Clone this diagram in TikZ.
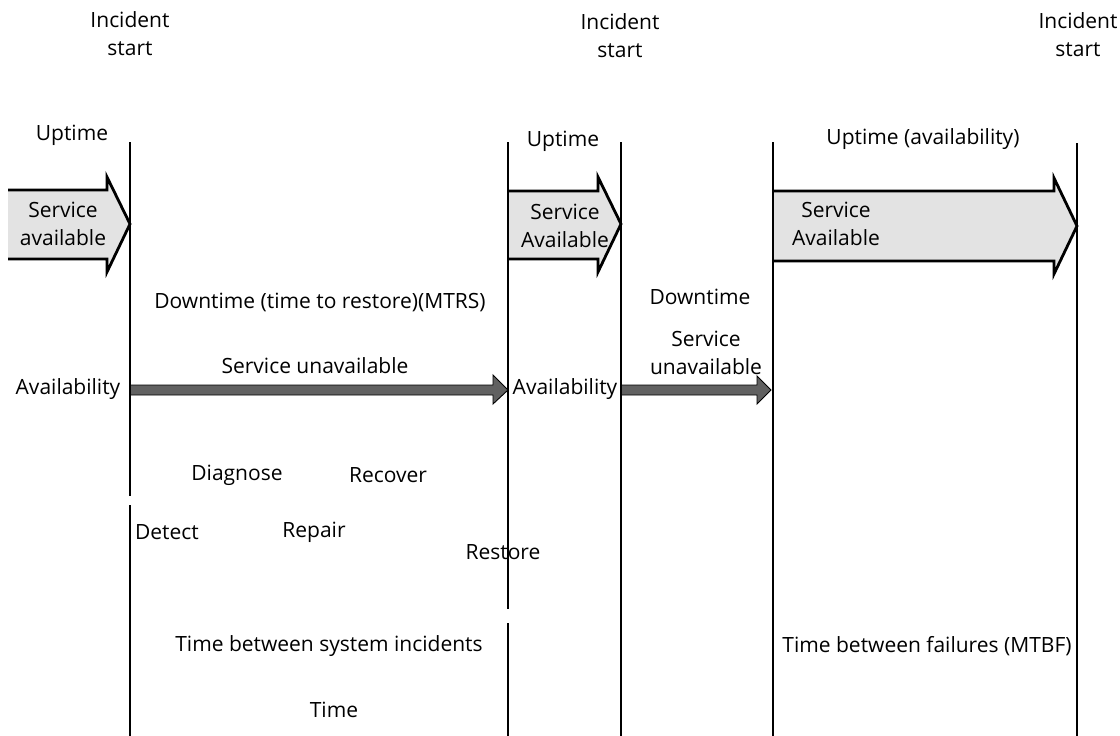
\documentclass[tikz,border=0pt]{standalone}
\usepackage{fontspec}
\setmainfont{Open Sans}
\begin{document}
\begin{tikzpicture}[x=1pt,y=-1pt,
  lbl/.style={font=\fontsize{21}{28}\selectfont, inner sep=0pt, align=center, text=black},
  vline/.style={line width=2.4pt, black},
  bigarrow/.style={fill=gray!22, draw=none},
  bigedge/.style={line width=2.8pt, black, line join=miter},
  thinarrow/.style={fill=black!62, draw=black, line width=0.9pt, line join=miter}]
\useasboundingbox (0,0) rectangle (1120,736);
% coordinates of the timeline lines
\coordinate (a1) at (130,142); \coordinate (a2) at (130,736);
\coordinate (b1) at (508,142); \coordinate (b2) at (508,736);
\coordinate (c1) at (621,142); \coordinate (c2) at (621,736);
\coordinate (d1) at (773,142); \coordinate (d2) at (773,736);
\coordinate (e1) at (1077,143); \coordinate (e2) at (1077,736);
% big arrows (service available)
\fill[bigarrow] (8,190) -- (107,190) -- (107,177) -- (130,224) -- (107,272) -- (107,259) -- (8,259) -- cycle;
\draw[bigedge] (8,190) -- (107,190) -- (107,177) -- (130,224) -- (107,272) -- (107,259) -- (8,259);
\fill[bigarrow] (508,191) -- (598,191) -- (598,177) -- (621,224) -- (598,272) -- (598,259) -- (508,259) -- cycle;
\draw[bigedge] (508,191) -- (598,191) -- (598,177) -- (621,224) -- (598,272) -- (598,259) -- (508,259);
\fill[bigarrow] (773,191) -- (1054,191) -- (1054,178) -- (1077,226) -- (1054,274) -- (1054,261) -- (773,261) -- cycle;
\draw[bigedge] (773,191) -- (1054,191) -- (1054,178) -- (1077,226) -- (1054,274) -- (1054,261) -- (773,261);
% thin arrows (service unavailable)
\draw[thinarrow] (130,385) -- (493,385) -- (493,375) -- (508,390) -- (493,404) -- (493,395) -- (130,395) -- cycle;
\draw[thinarrow] (621,385) -- (757,385) -- (757,376) -- (771,390) -- (757,404) -- (757,395) -- (621,395) -- cycle;
% vertical lines
\draw[vline] (a1) -- (130,496) (130,505) -- (a2);
\draw[vline] (b1) -- (508,609) (508,623) -- (b2);
\draw[vline] (c1) -- (c2);
\draw[vline] (d1) -- (d2);
\draw[vline] (e1) -- (e2);
% labels
\node[lbl] (is1) at (130,34) {Incident\\start};
\node[lbl] (is2) at (620,36) {Incident\\start};
\node[lbl] (is3) at (1078,35) {Incident\\start};
\node[lbl] (up1) at (72,135) {Uptime};
\node[lbl] (up2) at (563,141) {Uptime};
\node[lbl] (up3) at (923,139) {Uptime (availability)};
\node[lbl] (sa1) at (63,224) {Service\\available};
\node[lbl] (sa2) at (565,226) {Service\\Available};
\node[lbl] (sa3) at (836,224) {Service\\Available};
\node[lbl] (dt1) at (320,302) {Downtime (time to restore)(MTRS)};
\node[lbl] (dt2) at (700,297) {Downtime};
\node[lbl] (su1) at (315,366) {Service unavailable};
\node[lbl] (su2) at (706,353) {Service\\unavailable};
\node[lbl] (av1) at (68,389) {Availability};
\node[lbl] (av2) at (565,389) {Availability};
\node[lbl] (dg) at (237,475) {Diagnose};
\node[lbl] (rc) at (388,475) {Recover};
\node[lbl] (dc) at (167,532) {Detect};
\node[lbl] (rp) at (314,532) {Repair};
\node[lbl] (rs) at (503,552) {Restore};
\node[lbl] (tb1) at (329,646) {Time between system incidents};
\node[lbl] (tb2) at (927,646) {Time between failures (MTBF)};
\node[lbl] (tm) at (334,710) {Time};
\end{tikzpicture}
\end{document}
